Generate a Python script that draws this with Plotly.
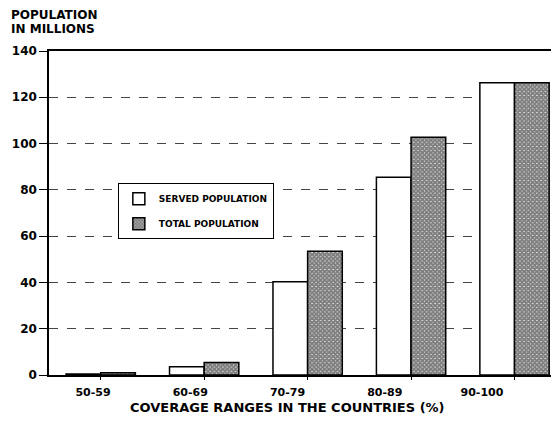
import plotly.graph_objects as go

categories = ["50-59", "60-69", "70-79", "80-89", "90-100"]
served_population = [0.4, 3.6, 40.3, 85.5, 126.3]
total_population = [1.0, 5.4, 53.5, 102.7, 126.3]
y_ticks = [0, 20, 40, 60, 80, 100, 120, 140]

FONT = "DejaVu Sans"

fig = go.Figure()
fig.add_trace(go.Bar(
    x=categories, y=served_population, name="SERVED POPULATION",
    legendgroup="a",
    marker=dict(color="white", line=dict(color="black", width=1.5)),
))
fig.add_trace(go.Bar(
    x=categories, y=total_population, name="TOTAL POPULATION",
    legendgroup="b",
    marker=dict(color="white", line=dict(color="black", width=1.5),
                pattern=dict(shape="x", fgcolor="black", bgcolor="white",
                             size=3, solidity=0.9, fillmode="overlay")),
))
# invisible carrier trace for the (slightly offset) category labels axis
fig.add_trace(go.Scatter(
    x=categories, y=served_population, xaxis="x2", mode="markers",
    marker=dict(opacity=0), showlegend=False, hoverinfo="skip",
))

fig.update_layout(
    width=559, height=422,
    margin=dict(l=41, r=8, t=43, b=55, autoexpand=False),
    paper_bgcolor="white", plot_bgcolor="white",
    barmode="group", bargap=0.33, bargroupgap=0,
    font=dict(family=FONT, size=11, color="black", weight="bold"),
    showlegend=True,
    legend=dict(x=0.135, y=0.592, xanchor="left", yanchor="top",
                bgcolor="white", bordercolor="black", borderwidth=1,
                tracegroupgap=6,
                font=dict(family=FONT, size=9, color="black", weight="bold")),
    xaxis=dict(
        type="category", range=[-0.5, 4.43], automargin=False,
        showline=True, linecolor="black", linewidth=1.5, mirror=True,
        ticks="outside", ticklen=3, tickcolor="black",
        showticklabels=False, showgrid=False,
    ),
    xaxis2=dict(
        type="category", overlaying="x", side="bottom", anchor="y",
        range=[-0.4524, 4.792], automargin=False,
        showline=False, showgrid=False, zeroline=False,
        ticks="outside", ticklen=7, tickcolor="rgba(0,0,0,0)",
        tickfont=dict(family=FONT, size=11, weight="bold"),
    ),
    yaxis=dict(
        range=[0, 140], tickvals=y_ticks, automargin=False,
        showline=True, linecolor="black", linewidth=1.5,
        ticks="outside", ticklen=8, tickcolor="black",
        tickfont=dict(family=FONT, size=12, weight="bold"),
        showgrid=True, gridcolor="#444", gridwidth=1, griddash="dash",
        zeroline=False,
    ),
    annotations=[
        dict(text="POPULATION", xref="paper", yref="paper",
             x=-0.078, y=1.1097, xanchor="left", yanchor="middle", showarrow=False,
             font=dict(family=FONT, size=12, weight="bold")),
        dict(text="IN MILLIONS", xref="paper", yref="paper",
             x=-0.078, y=1.0665, xanchor="left", yanchor="middle", showarrow=False,
             font=dict(family=FONT, size=12, weight="bold")),
        dict(text="COVERAGE RANGES IN THE COUNTRIES (%)", xref="paper", yref="paper",
             x=0.467, y=-0.1005, xanchor="center", yanchor="middle", showarrow=False,
             font=dict(family=FONT, size=13, weight="bold")),
    ],
)

fig.write_html("out.html")
